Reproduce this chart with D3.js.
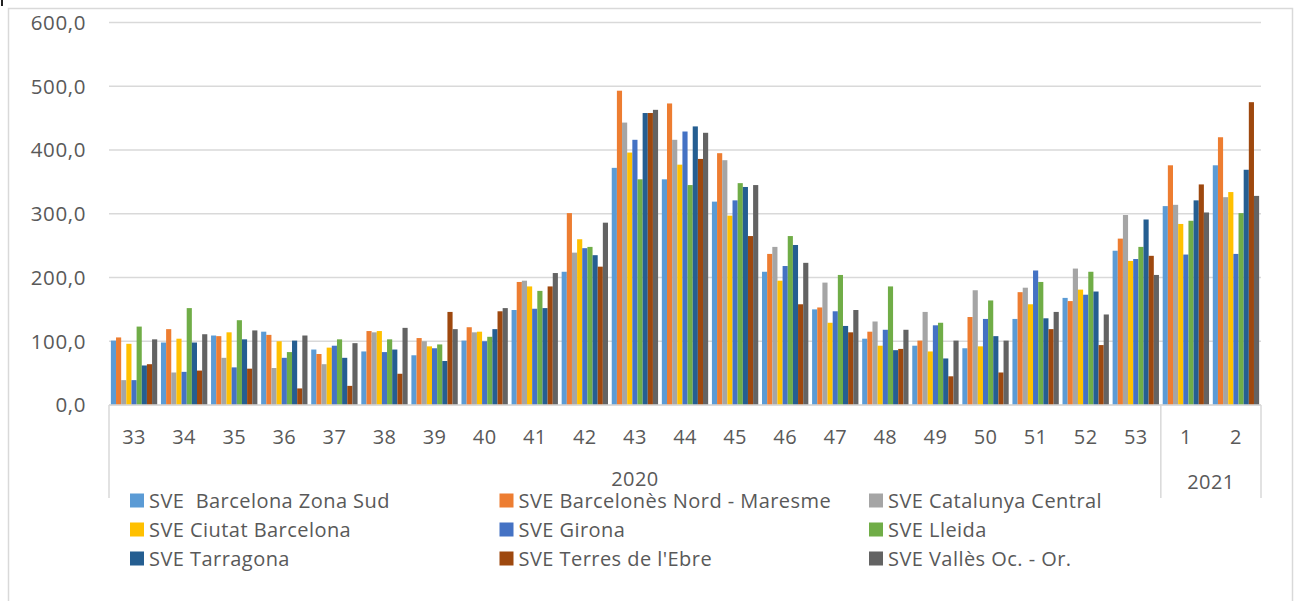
<!DOCTYPE html>
<html><head><meta charset="utf-8">
<script src="https://cdn.jsdelivr.net/npm/d3@7"></script>
<style>
html,body{margin:0;padding:0;background:#fff;}
svg{display:block;}
text{font-family:"Open Sans",sans-serif;fill:#595959;}
</style></head>
<body>
<svg id="chart" width="1299" height="601"></svg>
<script>
const weeks = ["33","34","35","36","37","38","39","40","41","42","43","44","45","46","47","48","49","50","51","52","53","1","2"];
const years = ["2020","2020","2020","2020","2020","2020","2020","2020","2020","2020","2020","2020","2020","2020","2020","2020","2020","2020","2020","2020","2020","2021","2021"];
const seriesNames = ["SVE  Barcelona Zona Sud","SVE Barcelonès Nord - Maresme","SVE Catalunya Central","SVE Ciutat Barcelona","SVE Girona","SVE Lleida","SVE Tarragona","SVE Terres de l'Ebre","SVE Vallès Oc. - Or."];
const seriesColors = ["#5B9BD5","#ED7D31","#A5A5A5","#FFC000","#4472C4","#70AD47","#255E91","#9E480E","#636363"];
const zonaSud   = [101, 98,109,115, 87, 84, 78,101,149,209,372,354,319,209,150,104, 93, 89,135,168,242,312,376];
const nord      = [106,119,108,110, 80,116,105,122,193,301,493,473,395,237,153,115,101,138,177,163,261,376,420];
const central   = [ 39, 51, 74, 58, 64,114,100,114,195,239,443,416,384,248,192,131,146,180,184,214,298,314,326];
const ciutat    = [ 96,104,114,100, 90,116, 92,115,186,260,396,377,297,195,129, 93, 84, 92,158,181,226,284,334];
const girona    = [ 39, 52, 59, 74, 93, 83, 89,100,151,246,416,429,321,218,147,118,125,135,211,173,229,236,237];
const lleida    = [123,152,133, 83,103,103, 95,107,179,248,354,345,348,265,204,186,129,164,193,209,248,289,301];
const tarragona = [ 62, 98,103,101, 74, 87, 69,119,152,235,458,437,342,251,124, 86, 73,108,136,178,291,321,369];
const terres    = [ 64, 54, 57, 26, 30, 49,146,147,186,217,458,386,265,158,114, 88, 45, 51,119, 94,234,346,475];
const valles    = [103,111,117,109, 97,121,119,152,207,286,463,427,345,223,149,118,101,101,146,142,204,302,328];
const yTicks = [0,100,200,300,400,500,600];

const seriesValues = [zonaSud,nord,central,ciutat,girona,lleida,tarragona,terres,valles];

const svg = d3.select("#chart");
const L = 109, R = 1261, T = 22.5, B = 405;
const grid = "#D9D9D9";

// outer border
svg.append("rect").attr("x",8.5).attr("y",8.5).attr("width",1284).attr("height",620)
  .attr("fill","none").attr("stroke",grid).attr("stroke-width",1.5);
svg.append("rect").attr("x",1).attr("y",0).attr("width",2).attr("height",6).attr("fill","#222");

const idx = weeks.map((d,i)=>i);
const x0 = d3.scaleBand().domain(idx).range([L,R]).paddingInner(0.075).paddingOuter(0.0375);
const x1 = d3.scaleBand().domain(d3.range(seriesNames.length)).range([0,x0.bandwidth()]);
const y = d3.scaleLinear().domain([0,600]).range([B,T]);
const fmt = v => d3.format(".1f")(v).replace(".",",");

// gridlines
svg.append("g").selectAll("line").data(yTicks).join("line")
  .attr("x1",L).attr("x2",R).attr("y1",d=>y(d)).attr("y2",d=>y(d))
  .attr("stroke",grid).attr("stroke-width",1.5);

// y axis labels
svg.append("g").selectAll("text").data(yTicks).join("text")
  .attr("x",86).attr("y",d=>y(d)).attr("dy","0.36em").attr("text-anchor","end")
  .attr("font-size",20.5).attr("letter-spacing","0.6px").text(fmt);

// bars
const gBars = svg.append("g");
seriesValues.forEach((vals,s)=>{
  gBars.append("g").selectAll("rect").data(vals).join("rect")
    .attr("x",(d,i)=>x0(i)+x1(s)).attr("width",x1.bandwidth())
    .attr("y",d=>y(d)).attr("height",d=>y(0)-y(d))
    .attr("fill",seriesColors[s]);
});

// category axis
const step = x0.step();
svg.append("line").attr("x1",L).attr("x2",R).attr("y1",B).attr("y2",B).attr("stroke",grid).attr("stroke-width",1.5);
const yearGroups = d3.groups(idx, i=>years[i]);
const bounds = [L];
yearGroups.forEach(([yr,arr])=>{ bounds.push(L + (arr[arr.length-1]+1)*step); });
svg.append("g").selectAll("line").data(bounds).join("line")
  .attr("x1",d=>d).attr("x2",d=>d).attr("y1",B).attr("y2",498)
  .attr("stroke",grid).attr("stroke-width",1.5);

svg.append("g").selectAll("text").data(idx).join("text")
  .attr("x",i=>x0(i)+x0.bandwidth()/2).attr("y",437).attr("dy","0.36em")
  .attr("text-anchor","middle").attr("font-size",20).attr("letter-spacing","0.4px").text(i=>weeks[i]);

svg.append("g").selectAll("text").data(yearGroups).join("text")
  .attr("x",([yr,arr])=>L + (arr[0] + (arr.length)/2)*step)
  .attr("y",([yr])=>yr==="2020"?479:482).attr("dy","0.36em").attr("text-anchor","middle").attr("font-size",20).attr("letter-spacing","0.4px")
  .text(([yr])=>yr);

// legend
const legX = [130,499.5,869], legY = [500.5,529.5,558.5];
const leg = svg.append("g").selectAll("g").data(seriesNames).join("g")
  .attr("transform",(d,i)=>`translate(${legX[i%3]},${legY[Math.floor(i/3)]})`);
leg.append("rect").attr("x",0).attr("y",-7).attr("width",14).attr("height",14).attr("fill",(d,i)=>seriesColors[i]);
leg.append("text").attr("x",19).attr("y",0).attr("dy","0.36em").attr("font-size",20).attr("letter-spacing","0.45px")
  .attr("xml:space","preserve").style("white-space","pre").text(d=>d);
</script>
</body></html>
